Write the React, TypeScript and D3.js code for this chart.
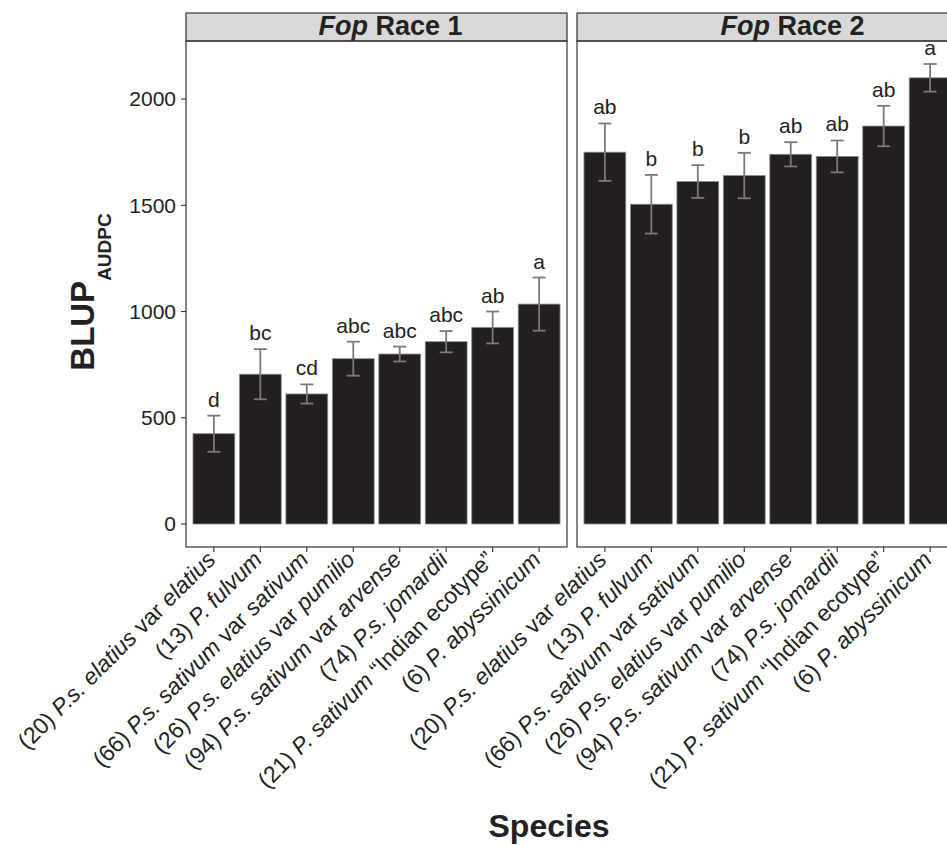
import React from "react";
import * as d3 from "d3";

const categories = [
  "(20) P.s. elatius var elatius",
  "(13) P. fulvum",
  "(66) P.s. sativum var sativum",
  "(26) P.s. elatius var pumilio",
  "(94) P.s. sativum var arvense",
  "(74) P.s. jomardii",
  "(21) P. sativum “Indian ecotype”",
  "(6) P. abyssinicum",
];
const panels = ["Race 1", "Race 2"];
const race1Values = [425, 705, 612, 778, 800, 858, 925, 1035];
const race1Errors = [85, 118, 45, 80, 35, 50, 75, 125];
const race1Letters = ["d", "bc", "cd", "abc", "abc", "abc", "ab", "a"];
const race2Values = [1750, 1505, 1612, 1640, 1740, 1730, 1873, 2100];
const race2Errors = [135, 138, 77, 107, 57, 75, 95, 65];
const race2Letters = ["ab", "b", "b", "b", "ab", "ab", "ab", "a"];
const yTicks = [0, 500, 1000, 1500, 2000];

const values = [race1Values, race2Values];
const errors = [race1Errors, race2Errors];
const letters = [race1Letters, race2Letters];

const font = "'Liberation Sans', Arial, Helvetica, sans-serif";
const panelLeft = [186, 577];
const panelW = 381;
const stripTop = 13;
const top = 41;
const bottom = 547;

// split a label into upright / italic pieces
function pieces(label: string) {
  const out: { t: string; it: boolean }[] = [];
  const m = label.match(/^(\(\d+\)) (.*)$/);
  if (!m) return [{ t: label, it: true }];
  out.push({ t: m[1] + " ", it: false });
  let rest = m[2];
  const q = rest.indexOf("“");
  let tail = "";
  if (q >= 0) {
    tail = rest.slice(q);
    rest = rest.slice(0, q);
  }
  rest.split(/( var )/).forEach(s => {
    if (s === "") return;
    out.push({ t: s, it: s !== " var " });
  });
  if (tail) out.push({ t: tail, it: false });
  return out;
}

const App: React.FC = () => {
  const hi = d3.max(values.flatMap((v, p) => v.map((d, i) => d + errors[p][i]))) || 0;
  const pad = hi * 0.05;
  const y = d3.scaleLinear().domain([-pad, hi + pad]).range([bottom, top]);

  return (
    <div style={{ position: "absolute", left: 0, top: 0 }}>
      <svg width={947} height={845} style={{ display: "block", fontFamily: font }}>
        <rect width={947} height={845} fill="#fff" />
        {/* y axis */}
        <g>
          {yTicks.map(t => (
            <g key={t} transform={`translate(0,${y(t)})`}>
              <line x1={181} x2={186} stroke="#333" strokeWidth={1.1} />
              <text x={176} dy="0.35em" textAnchor="end" fontSize={21} fill="#222">{t}</text>
            </g>
          ))}
        </g>
        <text transform="translate(94,292) rotate(-90)" textAnchor="middle" fontWeight="bold" fill="#222">
          <tspan fontSize={33}>BLUP</tspan>
          <tspan fontSize={19} dy={17}>AUDPC</tspan>
        </text>

        {panels.map((name, p) => {
          const x0 = panelLeft[p];
          const x = d3.scaleBand<string>()
            .domain(categories)
            .range([x0, x0 + panelW])
            .paddingInner(0.1)
            .paddingOuter(0.15);
          const cap = x.step() * 0.28;
          return (
            <g key={name}>
              <rect x={x0} y={stripTop} width={panelW} height={top - stripTop} fill="#d9d9d9" stroke="#333" strokeWidth={1.2} />
              <text x={x0 + panelW / 2 + (p === 0 ? 14 : 25)} y={35} textAnchor="middle" fontSize={27} fontWeight="bold" fill="#222">
                <tspan fontStyle="italic">Fop</tspan> {name}
              </text>
              {categories.map((c, i) => {
                const v = values[p][i];
                const e = errors[p][i];
                const cx = (x(c) || 0) + x.bandwidth() / 2;
                return (
                  <g key={c}>
                    <rect x={x(c)} y={y(v)} width={x.bandwidth()} height={y(0) - y(v)} fill="#231f20" stroke="#8c8c8c" strokeWidth={0.8} />
                    <g stroke="#7a7a7a" strokeWidth={1.8}>
                      <line x1={cx} x2={cx} y1={y(v - e)} y2={y(v + e)} />
                      <line x1={cx - cap / 2} x2={cx + cap / 2} y1={y(v - e)} y2={y(v - e)} />
                      <line x1={cx - cap / 2} x2={cx + cap / 2} y1={y(v + e)} y2={y(v + e)} />
                    </g>
                    <text x={cx} y={y(v + e) - 9} textAnchor="middle" fontSize={21} fill="#222">{letters[p][i]}</text>
                    <line x1={cx} x2={cx} y1={bottom} y2={bottom + 5} stroke="#333" strokeWidth={1.1} />
                    <text transform={`translate(${cx + 3},${bottom + 14}) rotate(-45)`} textAnchor="end" fontSize={23} fill="#222">
                      {pieces(c).map((s, k) => (
                        <tspan key={k} fontStyle={s.it ? "italic" : "normal"}>{s.t}</tspan>
                      ))}
                    </text>
                  </g>
                );
              })}
              <rect x={x0} y={top} width={panelW} height={bottom - top} fill="none" stroke="#333" strokeWidth={1.2} />
            </g>
          );
        })}

        <text x={549} y={837} textAnchor="middle" fontSize={32} fontWeight="bold" fill="#222">Species</text>
      </svg>
    </div>
  );
};

export default App;
